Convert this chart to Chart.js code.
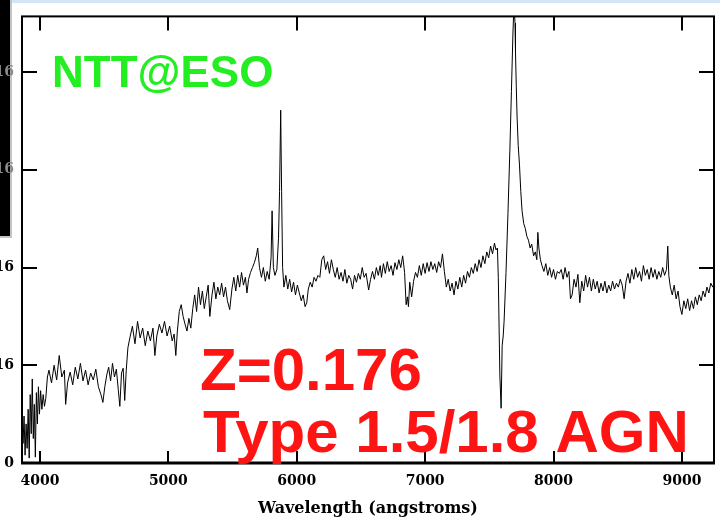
<!DOCTYPE html>
<html>
<head>
<meta charset="utf-8">
<script src="https://cdn.jsdelivr.net/npm/chart.js@4.4.1/dist/chart.umd.min.js"></script>
<style>
  html, body { margin: 0; padding: 0; background: #fff; overflow: hidden; }
  #wrap { position: relative; width: 720px; height: 518px; overflow: hidden; }
  /* the reference is a crop: y labels are cut at the left edge */
  #spec { position: absolute; left: -40px; top: 0; }
</style>
</head>
<body>
<div id="wrap"><canvas id="spec" width="760" height="518"></canvas></div>
<script>
// spectrum, flux in units of 1e-16
const wavelength = [
  3860, 3868, 3876, 3884, 3892, 3900, 3908, 3916, 3924, 3932,
  3940, 3948, 3956, 3964, 3972, 3980, 3988, 3996, 4005, 4015,
  4025, 4035, 4045, 4058, 4070, 4090, 4110, 4130, 4150, 4170,
  4190, 4200, 4215, 4235, 4255, 4275, 4295, 4315, 4335, 4355,
  4375, 4395, 4415, 4435, 4455, 4475, 4490, 4505, 4520, 4535,
  4550, 4565, 4580, 4595, 4610, 4622, 4635, 4648, 4660, 4672,
  4685, 4700, 4720, 4740, 4760, 4780, 4800, 4820, 4840, 4860,
  4880, 4895, 4910, 4930, 4950, 4970, 4990, 5010, 5030, 5045,
  5058, 5070, 5085, 5100, 5115, 5130, 5145, 5160, 5175, 5190,
  5205, 5220, 5235, 5250, 5265, 5280, 5295, 5310, 5323, 5340,
  5355, 5370, 5385, 5400, 5415, 5430, 5445, 5460, 5478, 5495,
  5510, 5525, 5540, 5555, 5570, 5585, 5600, 5612, 5625, 5640,
  5655, 5670, 5685, 5696, 5710, 5725, 5740, 5755, 5770, 5785,
  5800, 5808, 5818, 5830, 5845, 5858, 5866, 5875, 5882, 5890,
  5900, 5915, 5930, 5945, 5960, 5975, 5990, 6005, 6020, 6035,
  6050, 6065, 6078, 6090, 6105, 6120, 6135, 6150, 6165, 6180,
  6195, 6210, 6225, 6240, 6255, 6270, 6285, 6300, 6315, 6330,
  6345, 6360, 6375, 6390, 6405, 6420, 6435, 6450, 6465, 6480,
  6495, 6510, 6525, 6540, 6560, 6575, 6590, 6605, 6620, 6635,
  6650, 6660, 6675, 6690, 6705, 6720, 6735, 6750, 6765, 6780,
  6795, 6810, 6825, 6840, 6852, 6862, 6870, 6880, 6895, 6910,
  6925, 6940, 6955, 6970, 6985, 7000, 7015, 7030, 7045, 7060,
  7075, 7090, 7105, 7120, 7135, 7150, 7165, 7180, 7195, 7210,
  7225, 7240, 7255, 7270, 7285, 7300, 7315, 7330, 7345, 7360,
  7375, 7390, 7405, 7420, 7435, 7450, 7465, 7480, 7495, 7510,
  7525, 7540, 7552, 7563, 7570, 7582, 7592, 7600, 7608, 7615,
  7630, 7645, 7660, 7672, 7684, 7692, 7700, 7704, 7710, 7716,
  7725, 7735, 7745, 7755, 7768, 7780, 7792, 7805, 7818, 7830,
  7845, 7858, 7870, 7878, 7886, 7898, 7910, 7925, 7940, 7955,
  7970, 7985, 8000, 8015, 8030, 8045, 8060, 8075, 8090, 8105,
  8120, 8132, 8145, 8160, 8175, 8190, 8205, 8220, 8235, 8250,
  8265, 8280, 8295, 8310, 8325, 8340, 8355, 8370, 8385, 8400,
  8415, 8430, 8445, 8460, 8475, 8490, 8505, 8520, 8535, 8550,
  8565, 8580, 8595, 8610, 8625, 8640, 8655, 8670, 8685, 8700,
  8715, 8730, 8745, 8760, 8775, 8790, 8805, 8820, 8835, 8850,
  8865, 8880, 8890, 8898, 8910, 8925, 8940, 8955, 8970, 8985,
  9000, 9015, 9030, 9045, 9060, 9075, 9090, 9105, 9120, 9135,
  9150, 9165, 9180, 9195, 9210, 9225, 9240, 9255
];
const flux = [
  0.62, 0.20, 0.48, 0.08, 0.40, 0.15, 0.55, 0.05, 0.70, 0.30,
  0.86, 0.25, 0.60, 0.06, 0.72, 0.40, 0.78, 0.50, 0.74, 0.55,
  0.70, 0.58, 0.66, 0.88, 0.95, 0.82, 1.00, 0.85, 1.10, 0.88,
  0.95, 0.60, 0.82, 0.93, 0.80, 0.98, 0.86, 1.02, 0.84, 0.95,
  0.80, 0.92, 0.85, 0.96, 0.78, 0.70, 0.62, 0.78, 0.90, 0.98,
  0.84, 1.02, 0.88, 0.96, 0.75, 0.58, 0.92, 0.97, 0.64, 0.95,
  1.18, 1.28, 1.40, 1.22, 1.45, 1.28, 1.38, 1.20, 1.35, 1.25,
  1.38, 1.10, 1.30, 1.42, 1.33, 1.45, 1.30, 1.40, 1.25, 1.32,
  1.10, 1.35, 1.55, 1.62, 1.50, 1.42, 1.35, 1.48, 1.38, 1.58,
  1.72, 1.55, 1.80, 1.62, 1.76, 1.58, 1.70, 1.82, 1.50, 1.72,
  1.85, 1.68, 1.80, 1.72, 1.84, 1.70, 1.80, 1.66, 1.57, 1.78,
  1.90, 1.76, 1.92, 1.80, 1.95, 1.82, 1.90, 1.74, 1.88, 1.95,
  2.00, 2.05, 2.12, 2.20, 2.00, 1.90, 2.00, 1.86, 1.96, 1.88,
  2.10, 2.58, 2.00, 1.92, 1.98, 2.30, 2.78, 3.61, 2.78, 2.00,
  1.80, 1.92, 1.78, 1.88, 1.75, 1.85, 1.72, 1.82, 1.74, 1.66,
  1.72, 1.60, 1.64, 1.78, 1.85, 1.80, 1.90, 1.86, 1.92, 1.90,
  2.08, 2.12, 1.98, 2.06, 1.94, 2.08, 1.98, 1.90, 2.00, 1.88,
  1.95, 1.86, 1.98, 1.84, 1.92, 1.88, 1.78, 1.92, 1.85, 1.94,
  1.88, 2.00, 1.90, 1.94, 1.77, 1.88, 1.96, 1.88, 2.00, 1.92,
  2.02, 1.90, 2.04, 1.94, 2.06, 1.96, 2.02, 1.92, 2.05, 1.98,
  2.08, 2.00, 2.12, 1.95, 1.62, 1.70, 1.60, 1.85, 1.70, 1.86,
  1.95, 1.90, 2.02, 1.92, 2.04, 1.94, 2.05, 1.96, 2.06, 1.98,
  2.04, 1.95, 2.06, 2.00, 2.14, 1.96, 1.80, 1.88, 1.76, 1.84,
  1.72, 1.86, 1.78, 1.90, 1.80, 1.92, 1.84, 1.96, 1.90, 2.00,
  1.94, 2.04, 1.96, 2.08, 2.00, 2.12, 2.04, 2.16, 2.10, 2.22,
  2.14, 2.25, 2.18, 2.20, 1.90, 0.90, 0.56, 1.20, 1.30, 1.45,
  1.95, 2.55, 3.20, 3.80, 4.40, 4.70, 4.50, 4.20, 3.85, 3.55,
  3.25, 3.05, 2.78, 2.58, 2.45, 2.40, 2.32, 2.28, 2.20, 2.24,
  2.12, 2.16, 2.08, 2.36, 2.20, 2.08, 2.02, 1.96, 2.04, 1.92,
  2.00, 1.90, 1.98, 1.88, 1.96, 1.94, 1.98, 1.88, 2.00, 1.90,
  1.96, 1.68, 1.72, 1.88, 1.80, 1.93, 1.64, 1.86, 1.76, 1.92,
  1.80, 1.90, 1.76, 1.88, 1.78, 1.86, 1.74, 1.84, 1.76, 1.86,
  1.74, 1.82, 1.76, 1.86, 1.78, 1.84, 1.80, 1.88, 1.82, 1.68,
  1.86, 1.94, 1.84, 1.98, 1.88, 2.00, 1.90, 1.96, 1.86, 2.02,
  1.92, 1.98, 1.88, 2.00, 1.90, 1.98, 1.88, 1.96, 1.90, 2.00,
  1.92, 1.98, 2.22, 1.92, 1.80, 1.72, 1.82, 1.68, 1.76, 1.60,
  1.52, 1.66, 1.58, 1.68, 1.56, 1.66, 1.58, 1.70, 1.62, 1.72,
  1.66, 1.76, 1.70, 1.80, 1.74, 1.84, 1.80, 1.86
];

const xTicks = [4000, 5000, 6000, 7000, 8000, 9000];
const yTicks = [0, 1, 2, 3, 4];
const yTickLabels = ['0', '1e-16', '2e-16', '3e-16', '4e-16'];
const xTitle = 'Wavelength (angstroms)';
const siteLabel = 'NTT@ESO';
const redshiftLabel = 'Z=0.176';
const typeLabel = 'Type 1.5/1.8 AGN';

const OX = 40; // canvas is shifted 40px left of the page

function line(ctx, x1, y1, x2, y2) {
  ctx.beginPath();
  ctx.moveTo(x1, y1);
  ctx.lineTo(x2, y2);
  ctx.stroke();
}

const framePlugin = {
  id: 'frame',
  beforeDraw(chart) {
    const ctx = chart.ctx;
    ctx.save();
    ctx.fillStyle = '#fff';
    ctx.fillRect(0, 0, chart.width, chart.height);
    // bits of the screen around the crop
    ctx.fillStyle = '#d4e5f6';
    ctx.fillRect(OX + 11, 0, 720 - 11, 3);
    ctx.fillStyle = '#000';
    ctx.fillRect(OX, 0, 11, 236);
    ctx.fillStyle = '#c4c4c4';
    ctx.fillRect(OX, 236, 12, 2);
    ctx.fillRect(OX + 10, 0, 2, 236);
    ctx.restore();
  },
  afterDatasetsDraw(chart) {
    const {ctx, chartArea: a, scales: {x, y}} = chart;
    ctx.save();
    ctx.strokeStyle = '#000';
    ctx.lineWidth = 2;
    ctx.strokeRect(a.left, a.top, a.right - a.left, a.bottom - a.top);
    ctx.lineWidth = 3;
    line(ctx, a.left - 1, a.bottom, a.right + 1, a.bottom);
    ctx.lineWidth = 2;
    xTicks.forEach(v => {
      const px = Math.round(x.getPixelForValue(v));
      line(ctx, px, a.bottom, px, a.bottom - 12);
      line(ctx, px, a.top, px, a.top + 14);
    });
    yTicks.forEach(v => {
      const py = Math.round(y.getPixelForValue(v));
      line(ctx, a.left, py, a.left + 15, py);
      line(ctx, a.right, py, a.right - 15, py);
    });
    ctx.restore();
  },
  afterDraw(chart) {
    const ctx = chart.ctx;
    ctx.save();
    ctx.textBaseline = 'alphabetic';
    ctx.textAlign = 'left';
    ctx.font = 'bold 44px "Liberation Sans", Arial, sans-serif';
    ctx.fillStyle = '#22ee22';
    ctx.fillText(siteLabel, OX + 52, 87);
    ctx.font = 'bold 60px "Liberation Sans", Arial, sans-serif';
    ctx.fillStyle = '#ff1414';
    ctx.fillText(redshiftLabel, OX + 200, 390);
    ctx.fillText(typeLabel, OX + 203, 452);
    ctx.restore();
  }
};

const points = wavelength.map((w, i) => ({x: w, y: flux[i]}));

new Chart(document.getElementById('spec'), {
  type: 'scatter',
  data: {
    datasets: [{
      data: points,
      showLine: true,
      borderColor: '#000',
      borderWidth: 1,
      pointRadius: 0,
      tension: 0
    }]
  },
  options: {
    responsive: false,
    animation: false,
    events: [],
    layout: {padding: {top: 9, right: 6, left: 0, bottom: 0}},
    plugins: {legend: {display: false}, tooltip: {enabled: false}},
    scales: {
      x: {
        type: 'linear',
        min: 3860,
        max: 9250,
        grid: {display: false, drawTicks: false},
        border: {display: false},
        afterBuildTicks: s => { s.ticks = xTicks.map(v => ({value: v})); },
        afterFit: s => { s.height = 55; },
        ticks: {
          autoSkip: false,
          maxRotation: 0,
          padding: 10,
          color: '#000',
          font: {family: '"DejaVu Serif", serif', size: 14, weight: 'bold'},
          callback: v => String(v)
        },
        title: {
          display: true,
          text: xTitle,
          color: '#000',
          padding: {top: 0, bottom: 0},
          font: {family: '"DejaVu Serif", serif', size: 16, weight: 'bold'}
        }
      },
      y: {
        type: 'linear',
        min: 0,
        max: 4.57,
        grid: {display: false, drawTicks: false},
        border: {display: false},
        afterBuildTicks: s => { s.ticks = yTicks.map(v => ({value: v})); },
        afterFit: s => { s.width = 62; },
        ticks: {
          padding: 8,
          color: c => (c.tick && c.tick.value >= 3 ? '#8a8a8a' : '#000'),
          font: {family: '"DejaVu Serif", serif', size: 14, weight: 'bold'},
          callback: v => yTickLabels[yTicks.indexOf(v)]
        }
      }
    }
  },
  plugins: [framePlugin]
});
</script>
</body>
</html>
